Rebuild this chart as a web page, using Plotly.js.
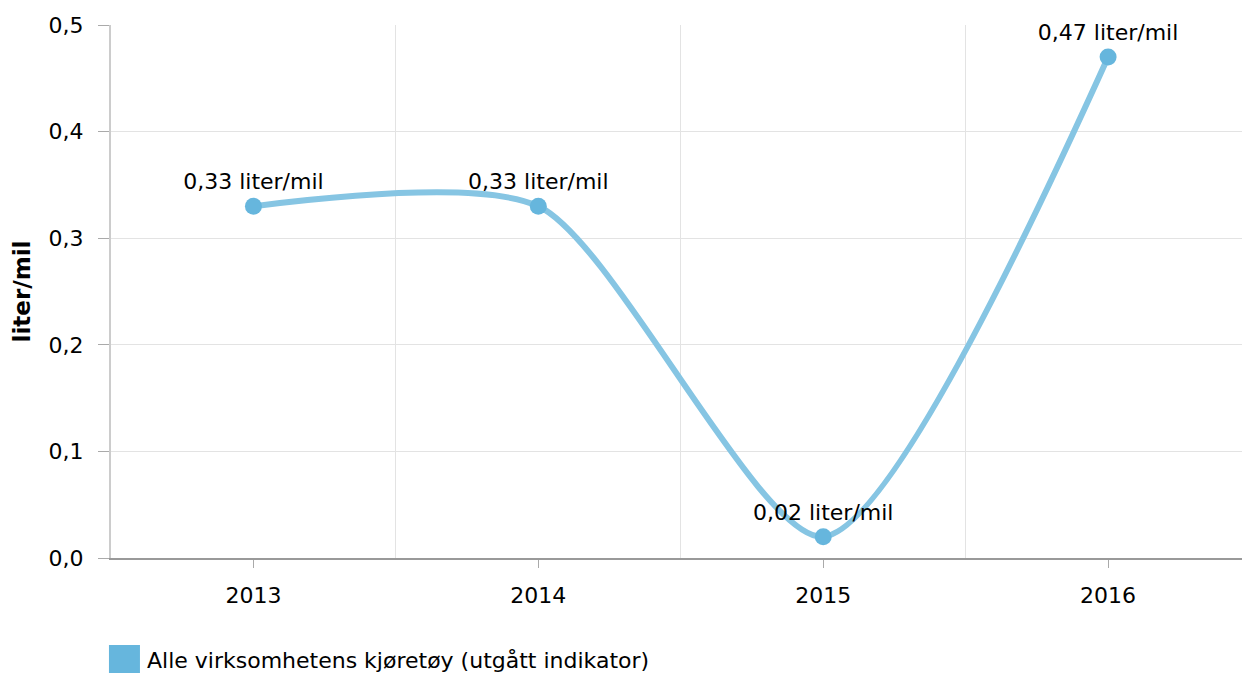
<!DOCTYPE html>
<html><head><meta charset="utf-8">
<script src="https://cdn.plot.ly/plotly-3.0.1.min.js"></script>
<style>html,body{margin:0;padding:0;background:#fff;}#chart{width:1242px;height:673px;}</style>
</head><body><div id="chart"></div>
<script>
var years = ["2013", "2014", "2015", "2016"];
var values = [0.33, 0.33, 0.02, 0.47];
var seriesName = "Alle virksomhetens kjøretøy (utgått indikator)";
var unit = "liter/mil";

var idx = years.map(function(_, i){ return i; });
var font = "DejaVu Sans, Verdana, sans-serif";
var seriesColor = "#66B6DD";

var traces = [
  {
    x: idx, y: values, type: "scatter", mode: "lines+markers+text",
    name: seriesName,
    line: {shape: "spline", smoothing: 0.7, color: "#86C5E3", width: 6},
    marker: {color: seriesColor, size: 17},
    texttemplate: "%{y:.2f} " + unit,
    textposition: "top center",
    textfont: {family: font, size: 22, color: "#000"},
    showlegend: false, hoverinfo: "none", cliponaxis: false
  }
];

var layout = {
  width: 1242, height: 673,
  margin: {l: 111, r: 0, t: 25, b: 115, autoexpand: false},
  paper_bgcolor: "#fff", plot_bgcolor: "#fff",
  separators: ",.",
  font: {family: font, size: 22, color: "#000"},
  xaxis: {
    range: [-0.5, 3.47],
    tickmode: "array", tickvals: idx, ticktext: years,
    showgrid: false, zeroline: false,
    showline: true, linecolor: "#999", linewidth: 2,
    ticks: "outside", ticklen: 8, tickcolor: "#aaa", tickwidth: 1,
    ticklabelstandoff: 9,
    tickfont: {family: font, size: 22, color: "#000"},
    minor: {tickmode: "array", tickvals: [0.5, 1.5, 2.5], showgrid: true, gridcolor: "#e3e3e3", gridwidth: 1, ticks: ""}
  },
  yaxis: {
    range: [0, 0.5], tickmode: "linear", tick0: 0, dtick: 0.1, tickformat: ".1f",
    showgrid: true, gridcolor: "#e3e3e3", gridwidth: 1, zeroline: false,
    showline: true, linecolor: "#ccc", linewidth: 2,
    ticks: "outside", ticklen: 11, tickcolor: "#aaa", tickwidth: 1,
    ticklabelstandoff: 10,
    tickfont: {family: font, size: 22, color: "#000"},
    title: {text: "<b>" + unit + "</b>", font: {family: font, size: 23, color: "#000"}, standoff: 12}
  },
  showlegend: false,
  shapes: [
    {type: "rect", xref: "paper", yref: "paper", x0: -0.0018, x1: 0.0256, y0: -0.222, y1: -0.163,
     fillcolor: seriesColor, line: {width: 0}}
  ],
  annotations: [
    {xref: "paper", yref: "paper", x: 0.0305, y: -0.1925, xanchor: "left", yanchor: "middle",
     text: seriesName, showarrow: false, font: {family: font, size: 22, color: "#000"}}
  ]
};

Plotly.newPlot("chart", traces, layout, {displayModeBar: false, staticPlot: true});
</script>
</body></html>
